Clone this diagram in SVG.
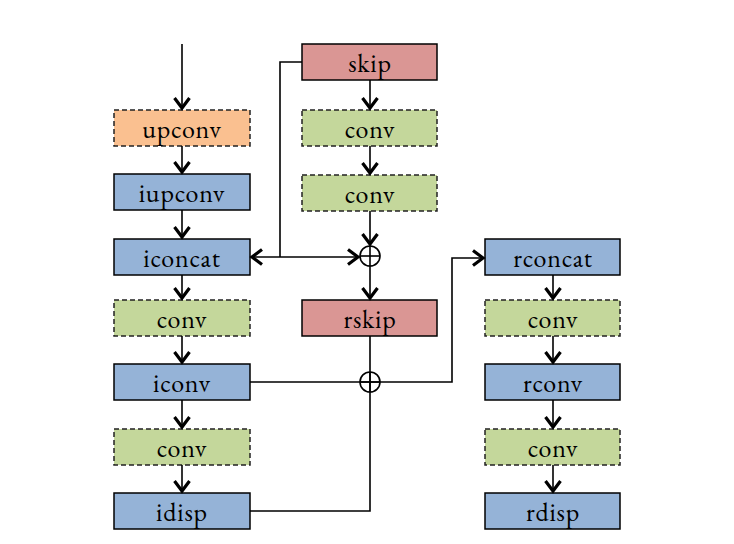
<svg xmlns="http://www.w3.org/2000/svg" width="734" height="544" viewBox="0 0 734 544">
<defs>
<marker id="ah" markerUnits="userSpaceOnUse" markerWidth="20" markerHeight="20" viewBox="-15 -10 20 20" refX="1" refY="0" orient="auto-start-reverse">
<path d="M-10,-7.5 L0,0 L-10,7.5" fill="none" stroke="#000" stroke-width="3.2"/>
</marker>
<style>
rect{stroke:#000;stroke-width:1.5}
.d{stroke-dasharray:5,3;stroke:#222}
.o{fill:#FAC090}
.g{fill:#C4D79B}
.b{fill:#95B3D7}
.r{fill:#DA9694}
text{font-family:"EB Garamond","Liberation Serif",serif;font-size:26px;letter-spacing:0.8px;text-anchor:middle;fill:#000}
.c path,.c line,.c circle{fill:none;stroke:#000;stroke-width:1.6}
</style>
</defs>
<g id="upconv"><rect class="o d" x="114" y="110" width="136" height="36"/><text x="182" y="138">upconv</text></g>
<g id="iupconv"><rect class="b" x="114" y="174" width="136" height="36"/><text x="182" y="202">iupconv</text></g>
<g id="iconcat"><rect class="b" x="114" y="239" width="136" height="36"/><text x="182" y="267">iconcat</text></g>
<g id="conv1"><rect class="g d" x="114" y="300" width="136" height="36"/><text x="182" y="328">conv</text></g>
<g id="iconv"><rect class="b" x="114" y="364" width="136" height="36"/><text x="182" y="392">iconv</text></g>
<g id="conv2"><rect class="g d" x="114" y="429" width="136" height="36"/><text x="182" y="457">conv</text></g>
<g id="idisp"><rect class="b" x="114" y="493" width="136" height="36"/><text x="182" y="521">idisp</text></g>
<g id="skip"><rect class="r" x="302" y="44" width="135" height="36"/><text x="370" y="72">skip</text></g>
<g id="conv3"><rect class="g d" x="302" y="110" width="135" height="36"/><text x="370" y="138">conv</text></g>
<g id="conv4"><rect class="g d" x="302" y="175" width="135" height="36"/><text x="370" y="203">conv</text></g>
<g id="rskip"><rect class="r" x="302" y="300" width="135" height="36"/><text x="370" y="328">rskip</text></g>
<g id="rconcat"><rect class="b" x="485" y="239" width="135" height="36"/><text x="553" y="267">rconcat</text></g>
<g id="conv5"><rect class="g d" x="485" y="300" width="135" height="36"/><text x="553" y="328">conv</text></g>
<g id="rconv"><rect class="b" x="485" y="364" width="135" height="36"/><text x="553" y="392">rconv</text></g>
<g id="conv6"><rect class="g d" x="485" y="429" width="135" height="36"/><text x="553" y="457">conv</text></g>
<g id="rdisp"><rect class="b" x="485" y="493" width="135" height="36"/><text x="553" y="521">rdisp</text></g>
<g id="add1" class="c"><circle cx="370" cy="256" r="10"/><line x1="360" y1="256" x2="380" y2="256"/><line x1="370" y1="246" x2="370" y2="266"/></g>
<g id="add2" class="c"><circle cx="370" cy="382" r="10"/><line x1="360" y1="382" x2="380" y2="382"/><line x1="370" y1="372" x2="370" y2="392"/></g>
<g id="connectors" class="c">
<line x1="182" y1="44" x2="182" y2="109" marker-end="url(#ah)"/>
<line x1="182" y1="146" x2="182" y2="173" marker-end="url(#ah)"/>
<line x1="182" y1="210" x2="182" y2="238" marker-end="url(#ah)"/>
<line x1="182" y1="275" x2="182" y2="299" marker-end="url(#ah)"/>
<line x1="182" y1="336" x2="182" y2="363" marker-end="url(#ah)"/>
<line x1="182" y1="400" x2="182" y2="428" marker-end="url(#ah)"/>
<line x1="182" y1="465" x2="182" y2="492" marker-end="url(#ah)"/>
<line x1="370" y1="80" x2="370" y2="109" marker-end="url(#ah)"/>
<line x1="370" y1="146" x2="370" y2="174" marker-end="url(#ah)"/>
<line x1="370" y1="211" x2="370" y2="245" marker-end="url(#ah)"/>
<line x1="370" y1="266" x2="370" y2="299" marker-end="url(#ah)"/>
<path d="M302,62 H280 V257"/>
<line x1="251" y1="257" x2="359" y2="257" marker-start="url(#ah)" marker-end="url(#ah)"/>
<path d="M250,382 H452 V258 H484" marker-end="url(#ah)"/>
<path d="M370,336 V511 H250"/>
<line x1="553" y1="275" x2="553" y2="299" marker-end="url(#ah)"/>
<line x1="553" y1="336" x2="553" y2="363" marker-end="url(#ah)"/>
<line x1="553" y1="400" x2="553" y2="428" marker-end="url(#ah)"/>
<line x1="553" y1="465" x2="553" y2="492" marker-end="url(#ah)"/>
</g>
</svg>
